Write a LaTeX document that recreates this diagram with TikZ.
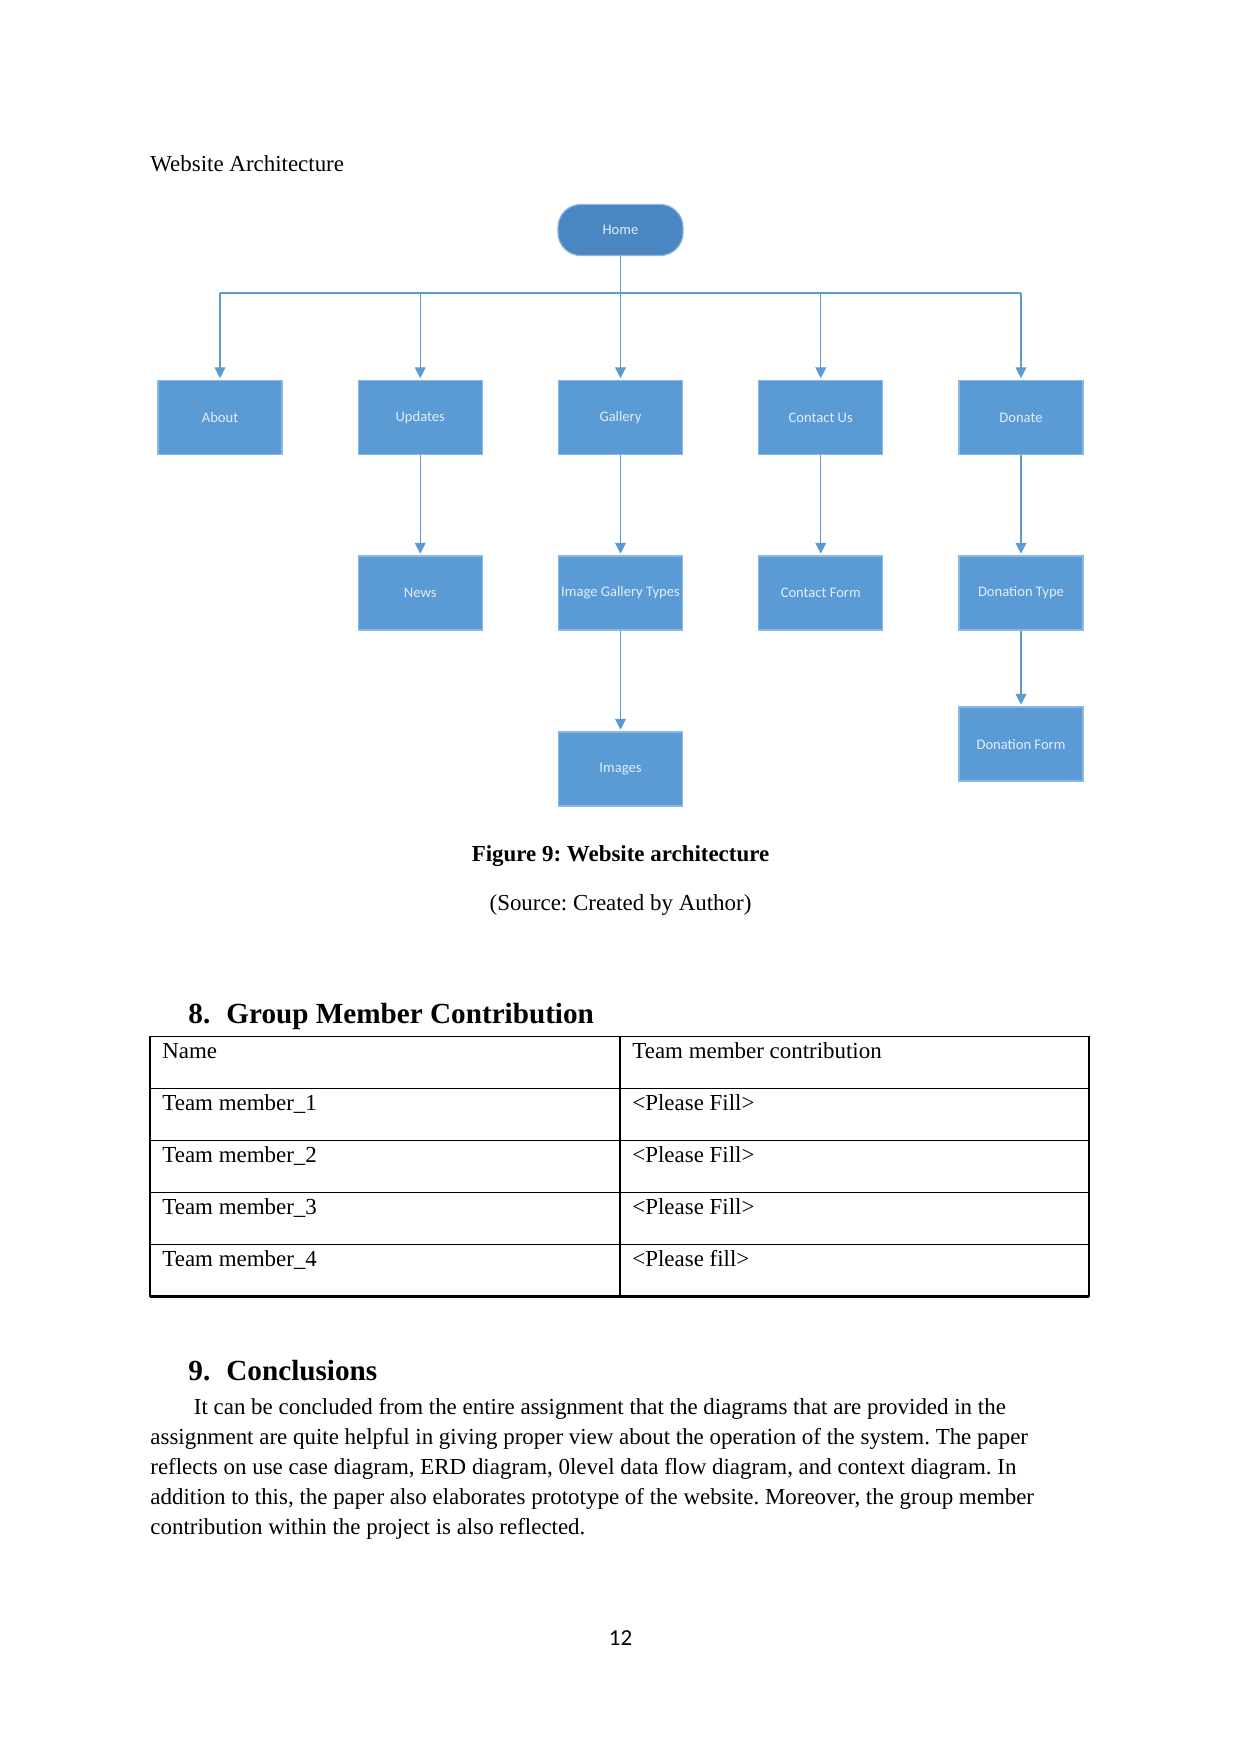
\documentclass[tikz,border=0pt]{standalone}
\usepackage{fontspec}
\setmainfont{Liberation Serif}
\newfontfamily\calibri{Carlito}
\usetikzlibrary{arrows.meta}
\frenchspacing

\definecolor{boxblue}{HTML}{5B9BD5}
\definecolor{homeblue}{HTML}{4A86C1}
\definecolor{labelwhite}{HTML}{E2EDF8}

\tikzset{
	sitebox/.style={rectangle, fill=boxblue, draw=boxblue!70!white, line width=0.6pt,
		minimum width=59.5pt, minimum height=35.5pt, inner sep=0pt,
		text=labelwhite, font=\calibri\fontsize{7}{8}\selectfont},
	homebox/.style={sitebox, fill=homeblue, draw=homeblue!60!white,
		minimum width=60pt, minimum height=24.5pt, rounded corners=11pt},
	link/.style={draw=boxblue, line width=0.5pt},
	arrowlink/.style={link, -{Triangle[length=5.2pt,width=5.2pt]}, shorten >=0.8pt},
	bodytext/.style={font=\fontsize{11}{14.45}\selectfont, inner sep=0pt, anchor=base west},
	headtext/.style={font=\fontsize{14}{16}\selectfont\bfseries, inner sep=0pt, anchor=base west}
}

\begin{document}
\begin{tikzpicture}[x=0.47968pt, y=-0.47968pt]
	\useasboundingbox (0,0) rectangle (1241,1754);
	
	% title above the chart
	\node[bodytext] (title) at (150,171) {Website Architecture};
	
	% site map
	\node[homebox] (home) at (620.5,230) {Home};
	
	\node[sitebox] (about)   at (220,417.5)    {About};
	\node[sitebox] (updates) at (420.25,417.5) {Updates};
	\node[sitebox] (gallery) at (620.5,417.5)  {Gallery};
	\node[sitebox] (contact) at (820.75,417.5) {Contact Us};
	\node[sitebox] (donate)  at (1021,417.5)   {Donate};
	
	\node[sitebox] (news)     at (420.25,593) {News};
	\node[sitebox] (types)    at (620.5,593)  {Image Gallery Types};
	\node[sitebox] (form)     at (820.75,593) {Contact Form};
	\node[sitebox] (dontype)  at (1021,593)   {Donation Type};
	
	\node[sitebox] (images)   at (620.5,769)  {Images};
	\node[sitebox] (donform)  at (1021,744)   {Donation Form};
	
	% connectors
	\coordinate (bus) at (620.5,293);
	\draw[link] (home) -- (bus);
	\draw[link] (bus -| about) -- (bus -| donate);
	\draw[arrowlink] (bus -| about) -- (about);
	\draw[arrowlink] (bus -| updates) -- (updates);
	\draw[arrowlink] (bus) -- (gallery);
	\draw[arrowlink] (bus -| contact) -- (contact);
	\draw[arrowlink] (bus -| donate) -- (donate);
	
	\draw[arrowlink] (updates) -- (news);
	\draw[arrowlink] (gallery) -- (types);
	\draw[arrowlink] (contact) -- (form);
	\draw[arrowlink] (donate) -- (dontype);
	\draw[arrowlink] (types) -- (images);
	\draw[arrowlink] (dontype) -- (donform);
	
	% caption
	\node[bodytext, anchor=base, font=\fontsize{11}{14}\selectfont\bfseries] (caption) at (620.5,861.5) {Figure 9: Website architecture};
	\node[bodytext, anchor=base] (source) at (620.5,910.5) {(Source: Created by Author)};
	
	% section 8 and table
	\node[headtext] (num8) at (188,1023.5) {8.};
	\node[headtext] (head8) at (226,1023.5) {Group Member Contribution};
	
	\draw[line width=0.6pt] (150,1036.7) rectangle (1089,1296.7);
	\draw[line width=0.6pt] (620,1036.7) -- (620,1296.7);
	\foreach \y in {1088.7,1140.7,1192.3,1244.3}
		\draw[line width=0.6pt] (150,\y) -- (1089,\y);
	\draw[line width=1.3pt] (150,1296.7) -- (1089,1296.7);
	
	\node[bodytext] (c11) at (162,1058.5) {Name};
	\node[bodytext] (c12) at (632,1058.5) {Team member contribution};
	\node[bodytext] (c21) at (162,1110.2) {Team member\_1};
	\node[bodytext] (c22) at (632,1110.2) {<Please Fill>};
	\node[bodytext] (c31) at (162,1162.2) {Team member\_2};
	\node[bodytext] (c32) at (632,1162.2) {<Please Fill>};
	\node[bodytext] (c41) at (162,1214) {Team member\_3};
	\node[bodytext] (c42) at (632,1214) {<Please Fill>};
	\node[bodytext] (c51) at (162,1266) {Team member\_4};
	\node[bodytext] (c52) at (632,1266) {<Please fill>};
	
	% section 9
	\node[headtext] (num9) at (188,1380.5) {9.};
	\node[headtext] (head9) at (226,1380.5) {Conclusions};
	
	\node[bodytext] (line1) at (193.5,1414) {It can be concluded from the entire assignment that the diagrams that are provided in the};
	\node[bodytext] (line2) at (150,1444.1) {assignment are quite helpful in giving proper view about the operation of the system. The paper};
	\node[bodytext] (line3) at (150,1474.2) {reflects on use case diagram, ERD diagram, 0level data flow diagram, and context diagram. In};
	\node[bodytext] (line4) at (150,1504.3) {addition to this, the paper also elaborates prototype of the website. Moreover, the group member};
	\node[bodytext] (line5) at (150,1534.4) {contribution within the project is also reflected.};
	
	% page number
	\node[inner sep=0pt, anchor=base, font=\calibri\fontsize{11}{13}\selectfont] (pagenum) at (620.5,1645) {12};
\end{tikzpicture}
\end{document}
